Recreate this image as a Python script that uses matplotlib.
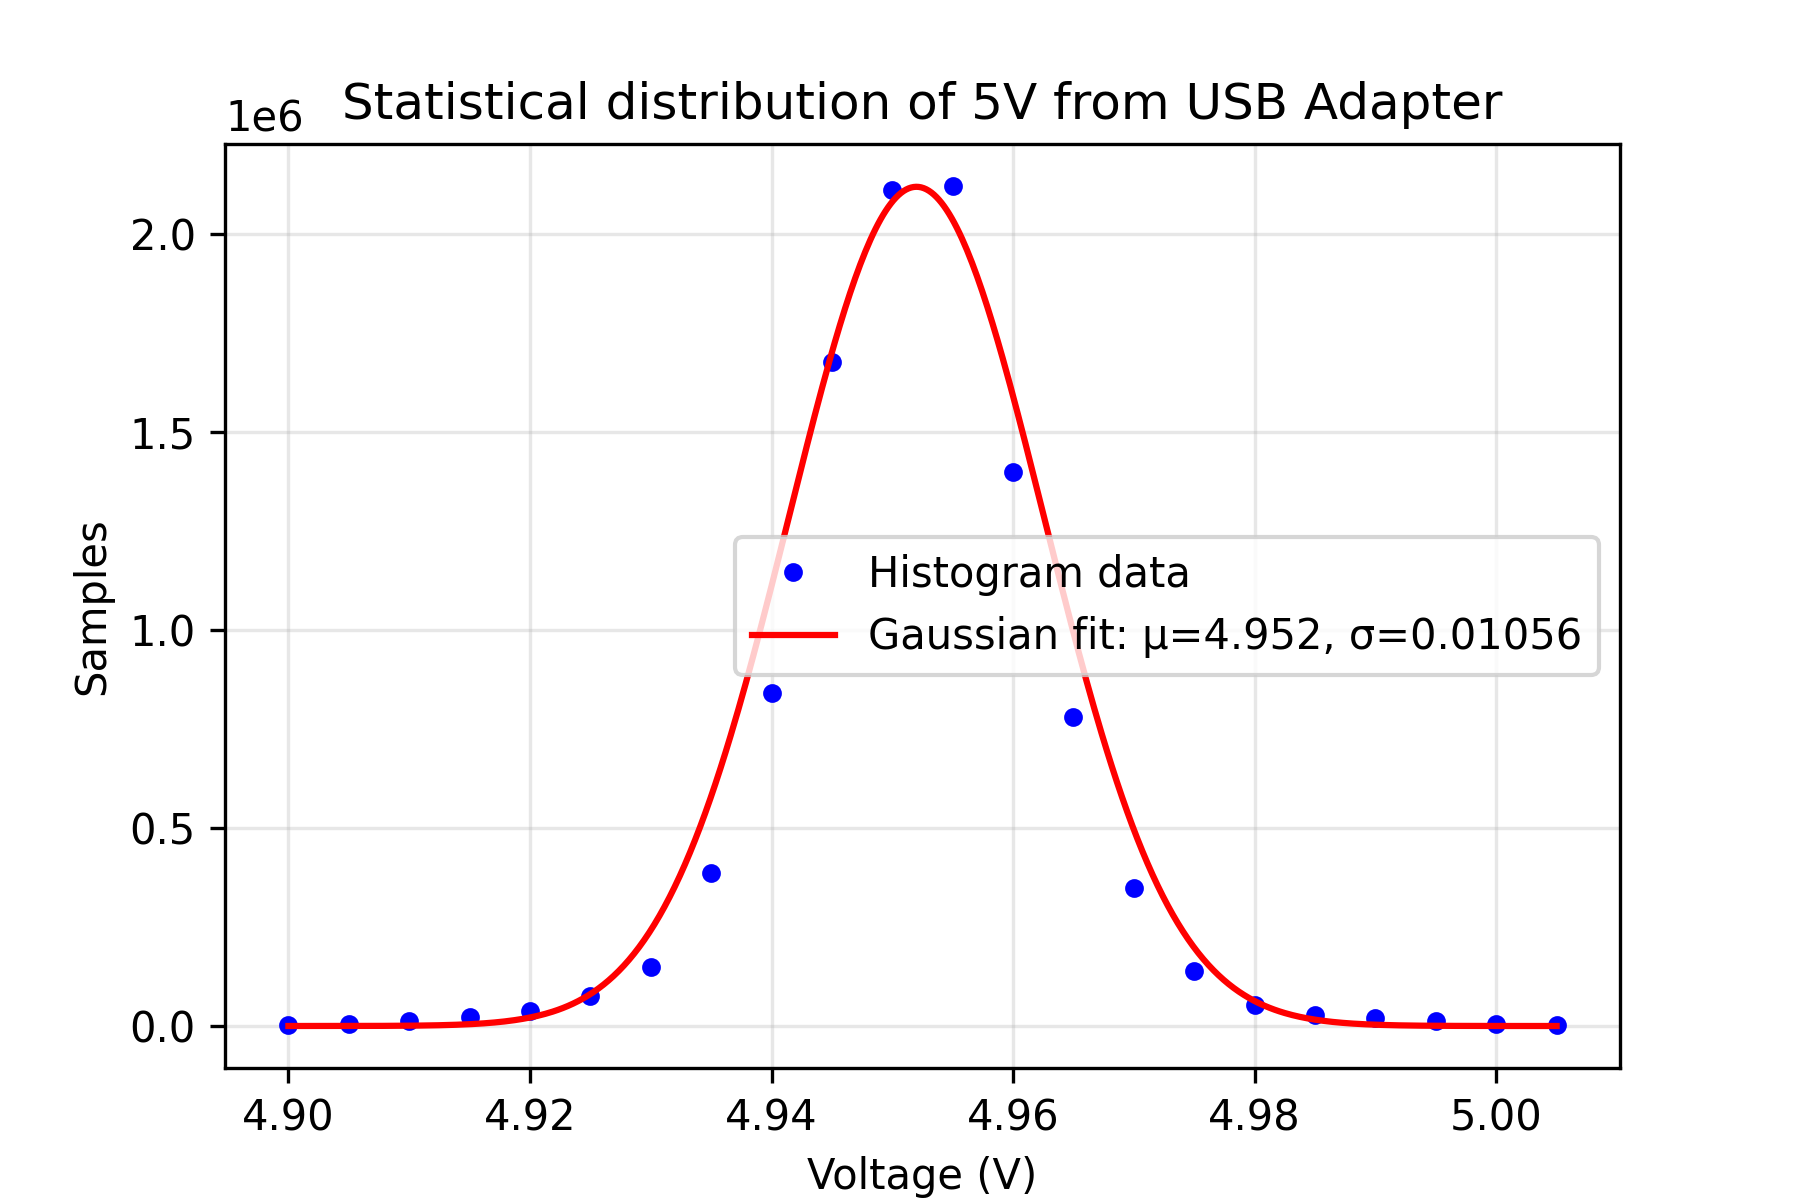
import numpy as np
import matplotlib
matplotlib.use("Agg")
import matplotlib.pyplot as plt

# histogram bin centres (V) and counts
voltage = [4.900, 4.905, 4.910, 4.915, 4.920, 4.925, 4.930, 4.935, 4.940, 4.945, 4.950,
           4.955, 4.960, 4.965, 4.970, 4.975, 4.980, 4.985, 4.990, 4.995, 5.000, 5.005]
samples = [0.003e6, 0.006e6, 0.012e6, 0.023e6, 0.038e6, 0.075e6, 0.148e6, 0.386e6, 0.842e6,
           1.678e6, 2.113e6, 2.122e6, 1.399e6, 0.781e6, 0.348e6, 0.139e6, 0.052e6, 0.029e6,
           0.020e6, 0.012e6, 0.006e6, 0.003e6]

# fit parameters
amp = 2.12e6
mu = 4.952
sigma = 0.01056


def gauss(x, a, m, s):
    return a * np.exp(-(x - m) ** 2 / (2 * s ** 2))


x_fit = np.linspace(voltage[0], voltage[-1], 500)

fig = plt.figure(figsize=(6, 4), dpi=300)
plt.plot(voltage, samples, 'bo', markersize=3.5, label='Histogram data')
plt.plot(x_fit, gauss(x_fit, amp, mu, sigma), 'r-', linewidth=1.5,
         label=f'Gaussian fit: μ={mu:.3f}, σ={sigma:.5f}')
plt.title('Statistical distribution of 5V from USB Adapter')
plt.xlabel('Voltage (V)')
plt.ylabel('Samples')
plt.grid(alpha=0.3)
plt.legend(loc='center right')
plt.savefig('out.png', dpi=300)
